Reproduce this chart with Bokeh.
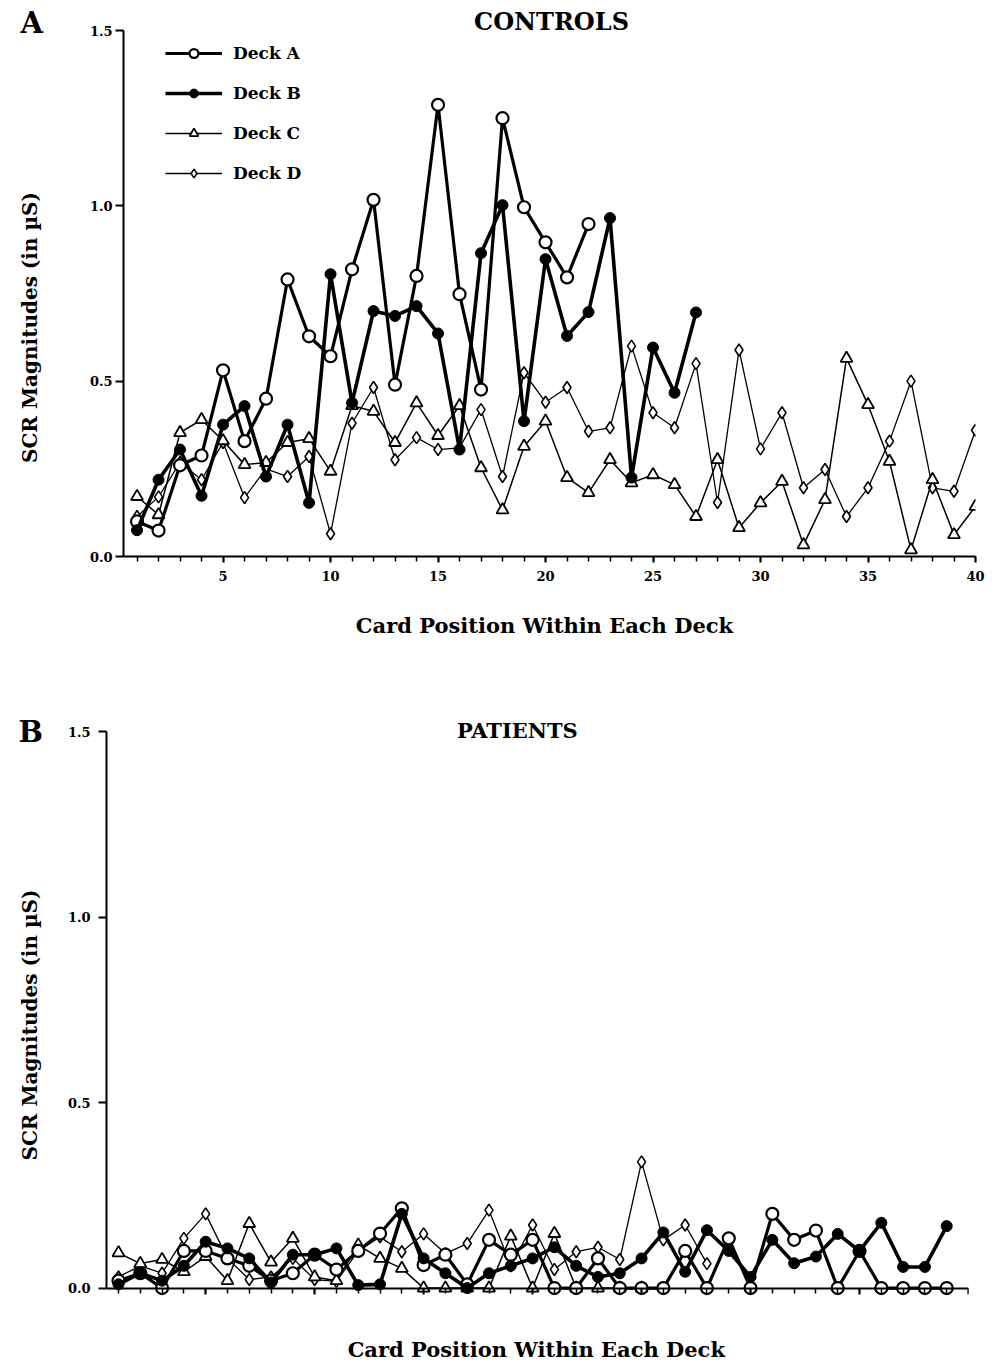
from math import pi
from bokeh.plotting import figure
from bokeh.layouts import column, row
from bokeh.models import (FixedTicker, NumeralTickFormatter, Label, Range1d,
                          Legend, LegendItem)
from bokeh.embed import file_html
from bokeh.resources import INLINE

# ---------------- data: panel A (controls) ----------------
cards_a_A = list(range(1, 23))
deck_a_A = [0.10, 0.074, 0.26, 0.288, 0.531, 0.329, 0.45, 0.79, 0.628, 0.571, 0.819,
            1.017, 0.49, 0.80, 1.288, 0.748, 0.476, 1.25, 0.996, 0.896, 0.796, 0.948]
cards_b_A = list(range(1, 28))
deck_b_A = [0.075, 0.219, 0.305, 0.173, 0.376, 0.429, 0.228, 0.376, 0.153, 0.805, 0.438,
            0.70, 0.686, 0.714, 0.636, 0.305, 0.865, 1.002, 0.386, 0.848, 0.629, 0.697,
            0.965, 0.225, 0.596, 0.467, 0.696]
cards_c_A = list(range(1, 41))
deck_c_A = [0.171, 0.119, 0.353, 0.39, 0.33, 0.262, 0.268, 0.325, 0.336, 0.243, 0.43,
            0.414, 0.325, 0.438, 0.345, 0.43, 0.253, 0.133, 0.314, 0.386, 0.225, 0.182,
            0.276, 0.21, 0.233, 0.205, 0.114, 0.276, 0.082, 0.153, 0.214, 0.033, 0.162,
            0.565, 0.433, 0.271, 0.019, 0.219, 0.062, 0.143]
cards_d_A = list(range(1, 41))
deck_d_A = [0.114, 0.17, 0.268, 0.219, 0.325, 0.168, 0.25, 0.228, 0.285, 0.065, 0.38,
            0.482, 0.276, 0.339, 0.305, 0.31, 0.419, 0.228, 0.524, 0.44, 0.482, 0.357,
            0.367, 0.60, 0.41, 0.367, 0.55, 0.154, 0.589, 0.307, 0.41, 0.196, 0.248,
            0.114, 0.196, 0.329, 0.50, 0.196, 0.186, 0.36]

# ---------------- data: panel B (patients) ----------------
cards_a_B = list(range(1, 40))
deck_a_B = [0.02, 0.04, 0.0, 0.10, 0.10, 0.08, 0.06, 0.02, 0.04, 0.09, 0.05, 0.10, 0.147,
            0.215, 0.062, 0.09, 0.01, 0.13, 0.09, 0.13, 0.0, 0.0, 0.08, 0.0, 0.0, 0.0,
            0.10, 0.0, 0.134, 0.0, 0.20, 0.13, 0.155, 0.0, 0.10, 0.0, 0.0, 0.0, 0.0]
cards_b_B = list(range(1, 40))
deck_b_B = [0.01, 0.04, 0.02, 0.06, 0.125, 0.107, 0.08, 0.015, 0.09, 0.09, 0.107, 0.008,
            0.01, 0.20, 0.08, 0.04, 0.0, 0.04, 0.06, 0.08, 0.11, 0.06, 0.03, 0.04, 0.08,
            0.15, 0.044, 0.156, 0.10, 0.03, 0.13, 0.067, 0.085, 0.146, 0.10, 0.176,
            0.057, 0.057, 0.167]
cards_c_B = list(range(1, 26))
deck_c_B = [0.095, 0.066, 0.077, 0.044, 0.085, 0.02, 0.174, 0.07, 0.134, 0.03, 0.02,
            0.116, 0.08, 0.053, 0.0, 0.0, 0.0, 0.0, 0.14, 0.0, 0.147, 0.0, 0.0, 0.0, 0.0]
cards_d_B = list(range(1, 29))
deck_d_B = [0.03, 0.06, 0.04, 0.134, 0.20, 0.08, 0.023, 0.03, 0.08, 0.023, 0.018, 0.10,
            0.138, 0.098, 0.146, 0.093, 0.12, 0.21, 0.06, 0.17, 0.05, 0.098, 0.11, 0.077,
            0.34, 0.13, 0.17, 0.066]

x_major = [5, 10, 15, 20, 25, 30, 35, 40]
x_minor = list(range(1, 41))
y_major = [0.0, 0.5, 1.0, 1.5]
deck_names = ["Deck A", "Deck B", "Deck C", "Deck D"]
x_title = "Card Position Within Each Deck"
y_title = "SCR Magnitudes (in \u00b5S)"

FONT = "DejaVu Serif"


def style_axes(p, y_standoff):
    p.xgrid.visible = False
    p.ygrid.visible = False
    p.outline_line_color = None
    p.xaxis.ticker = FixedTicker(ticks=x_major, minor_ticks=x_minor)
    p.yaxis.ticker = FixedTicker(ticks=y_major, minor_ticks=[])
    p.yaxis.formatter = NumeralTickFormatter(format="0.0")
    for ax in (p.xaxis, p.yaxis):
        ax.axis_line_width = 2
        ax.axis_line_color = "black"
        ax.major_tick_in = 0
        ax.minor_tick_in = 0
        ax.major_tick_line_width = 2
        ax.major_label_text_font = FONT
        ax.major_label_text_font_style = "bold"
        ax.major_label_text_font_size = "13px"
        ax.major_label_text_color = "black"
    p.xaxis.major_tick_out = 6
    p.xaxis.minor_tick_out = 5
    p.xaxis.minor_tick_line_width = 1.5
    p.xaxis.major_label_standoff = 8
    p.yaxis.major_tick_out = 8
    p.yaxis.minor_tick_line_color = None
    p.yaxis.major_label_standoff = y_standoff


def draw_decks(p, ca, a, cb, b, cc, c, cd, d):
    rd = [p.line(cd, d, line_color="black", line_width=1.3),
          p.scatter(cd, d, marker="diamond", size=12, line_color="black", line_width=1.6,
                    fill_color="white")]
    rc = [p.line(cc, c, line_color="black", line_width=1.5),
          p.scatter(cc, c, marker="triangle", size=12, line_color="black", line_width=1.8,
                    fill_color="white")]
    ra = [p.line(ca, a, line_color="black", line_width=3.2),
          p.scatter(ca, a, marker="circle", size=12, line_color="black", line_width=2.2,
                    fill_color="white")]
    rb = [p.line(cb, b, line_color="black", line_width=3.6),
          p.scatter(cb, b, marker="circle", size=11, line_color="black", line_width=1,
                    fill_color="black")]
    return ra, rb, rc, rd


def add_text(p, side, x, y, text, size, align="center", baseline="alphabetic", angle=0.0):
    p.add_layout(Label(x=x, y=y, x_units="data", y_units="data", text=text,
                       text_font=FONT, text_font_style="bold", text_font_size=size,
                       text_color="black", text_align=align, text_baseline=baseline,
                       angle=angle), side)


# ---------------- panel A ----------------
p1 = figure(width=994, height=668, output_backend="svg", toolbar_location=None,
            x_range=Range1d(0.37, 40.0), y_range=Range1d(0.0, 1.5),
            min_border_left=123, min_border_right=19, min_border_top=30,
            min_border_bottom=112)
p1.background_fill_color = "white"
p1.border_fill_color = "white"
style_axes(p1, 3)
ra, rb, rc, rd = draw_decks(p1, cards_a_A, deck_a_A, cards_b_A, deck_b_A,
                            cards_c_A, deck_c_A, cards_d_A, deck_d_A)

lg = Legend(items=[LegendItem(label=deck_names[0], renderers=ra),
                   LegendItem(label=deck_names[1], renderers=rb),
                   LegendItem(label=deck_names[2], renderers=rc),
                   LegendItem(label=deck_names[3], renderers=rd)])
lg.location = (42, 372)
lg.padding = 0
lg.margin = 0
lg.border_line_color = None
lg.background_fill_alpha = 0
lg.glyph_width = 57
lg.glyph_height = 22
lg.label_height = 22
lg.label_standoff = 11
lg.spacing = 18
lg.label_text_font = FONT
lg.label_text_font_style = "bold"
lg.label_text_font_size = "17px"
lg.label_text_color = "black"
p1.add_layout(lg)

add_text(p1, "left", -4.42, 1.5228, "A", "29px", align="left")
add_text(p1, "below", 20.28, 1.5257, "CONTROLS", "24px")
add_text(p1, "below", 19.95, -0.1968, x_title, "21px")
add_text(p1, "left", -4.0, 0.653, y_title, "20px", baseline="middle", angle=pi / 2)

# ---------------- panel B ----------------
p2 = figure(width=994, height=695, output_backend="svg", toolbar_location=None,
            x_range=Range1d(0.45, 40.0), y_range=Range1d(-0.02, 1.5),
            min_border_left=106, min_border_right=26, min_border_top=63,
            min_border_bottom=68)
p2.background_fill_color = "white"
p2.border_fill_color = "white"
style_axes(p2, 8)
p2.xaxis.fixed_location = 0
p2.yaxis.bounds = (0, 1.5)
draw_decks(p2, cards_a_B, deck_a_B, cards_b_B, deck_b_B, cards_c_B, deck_c_B,
           cards_d_B, deck_d_B)

add_text(p2, "above", -3.59, 1.4987, "B", "29px", align="left")
add_text(p2, "above", 19.30, 1.504, "PATIENTS", "21px")
add_text(p2, "below", 20.17, -0.1644, x_title, "21px")
add_text(p2, "left", -3.08, 0.709, y_title, "20px", baseline="middle", angle=pi / 2)

layout = column(row(p1), row(p2))
open("out.html", "w").write(file_html(layout, INLINE))
